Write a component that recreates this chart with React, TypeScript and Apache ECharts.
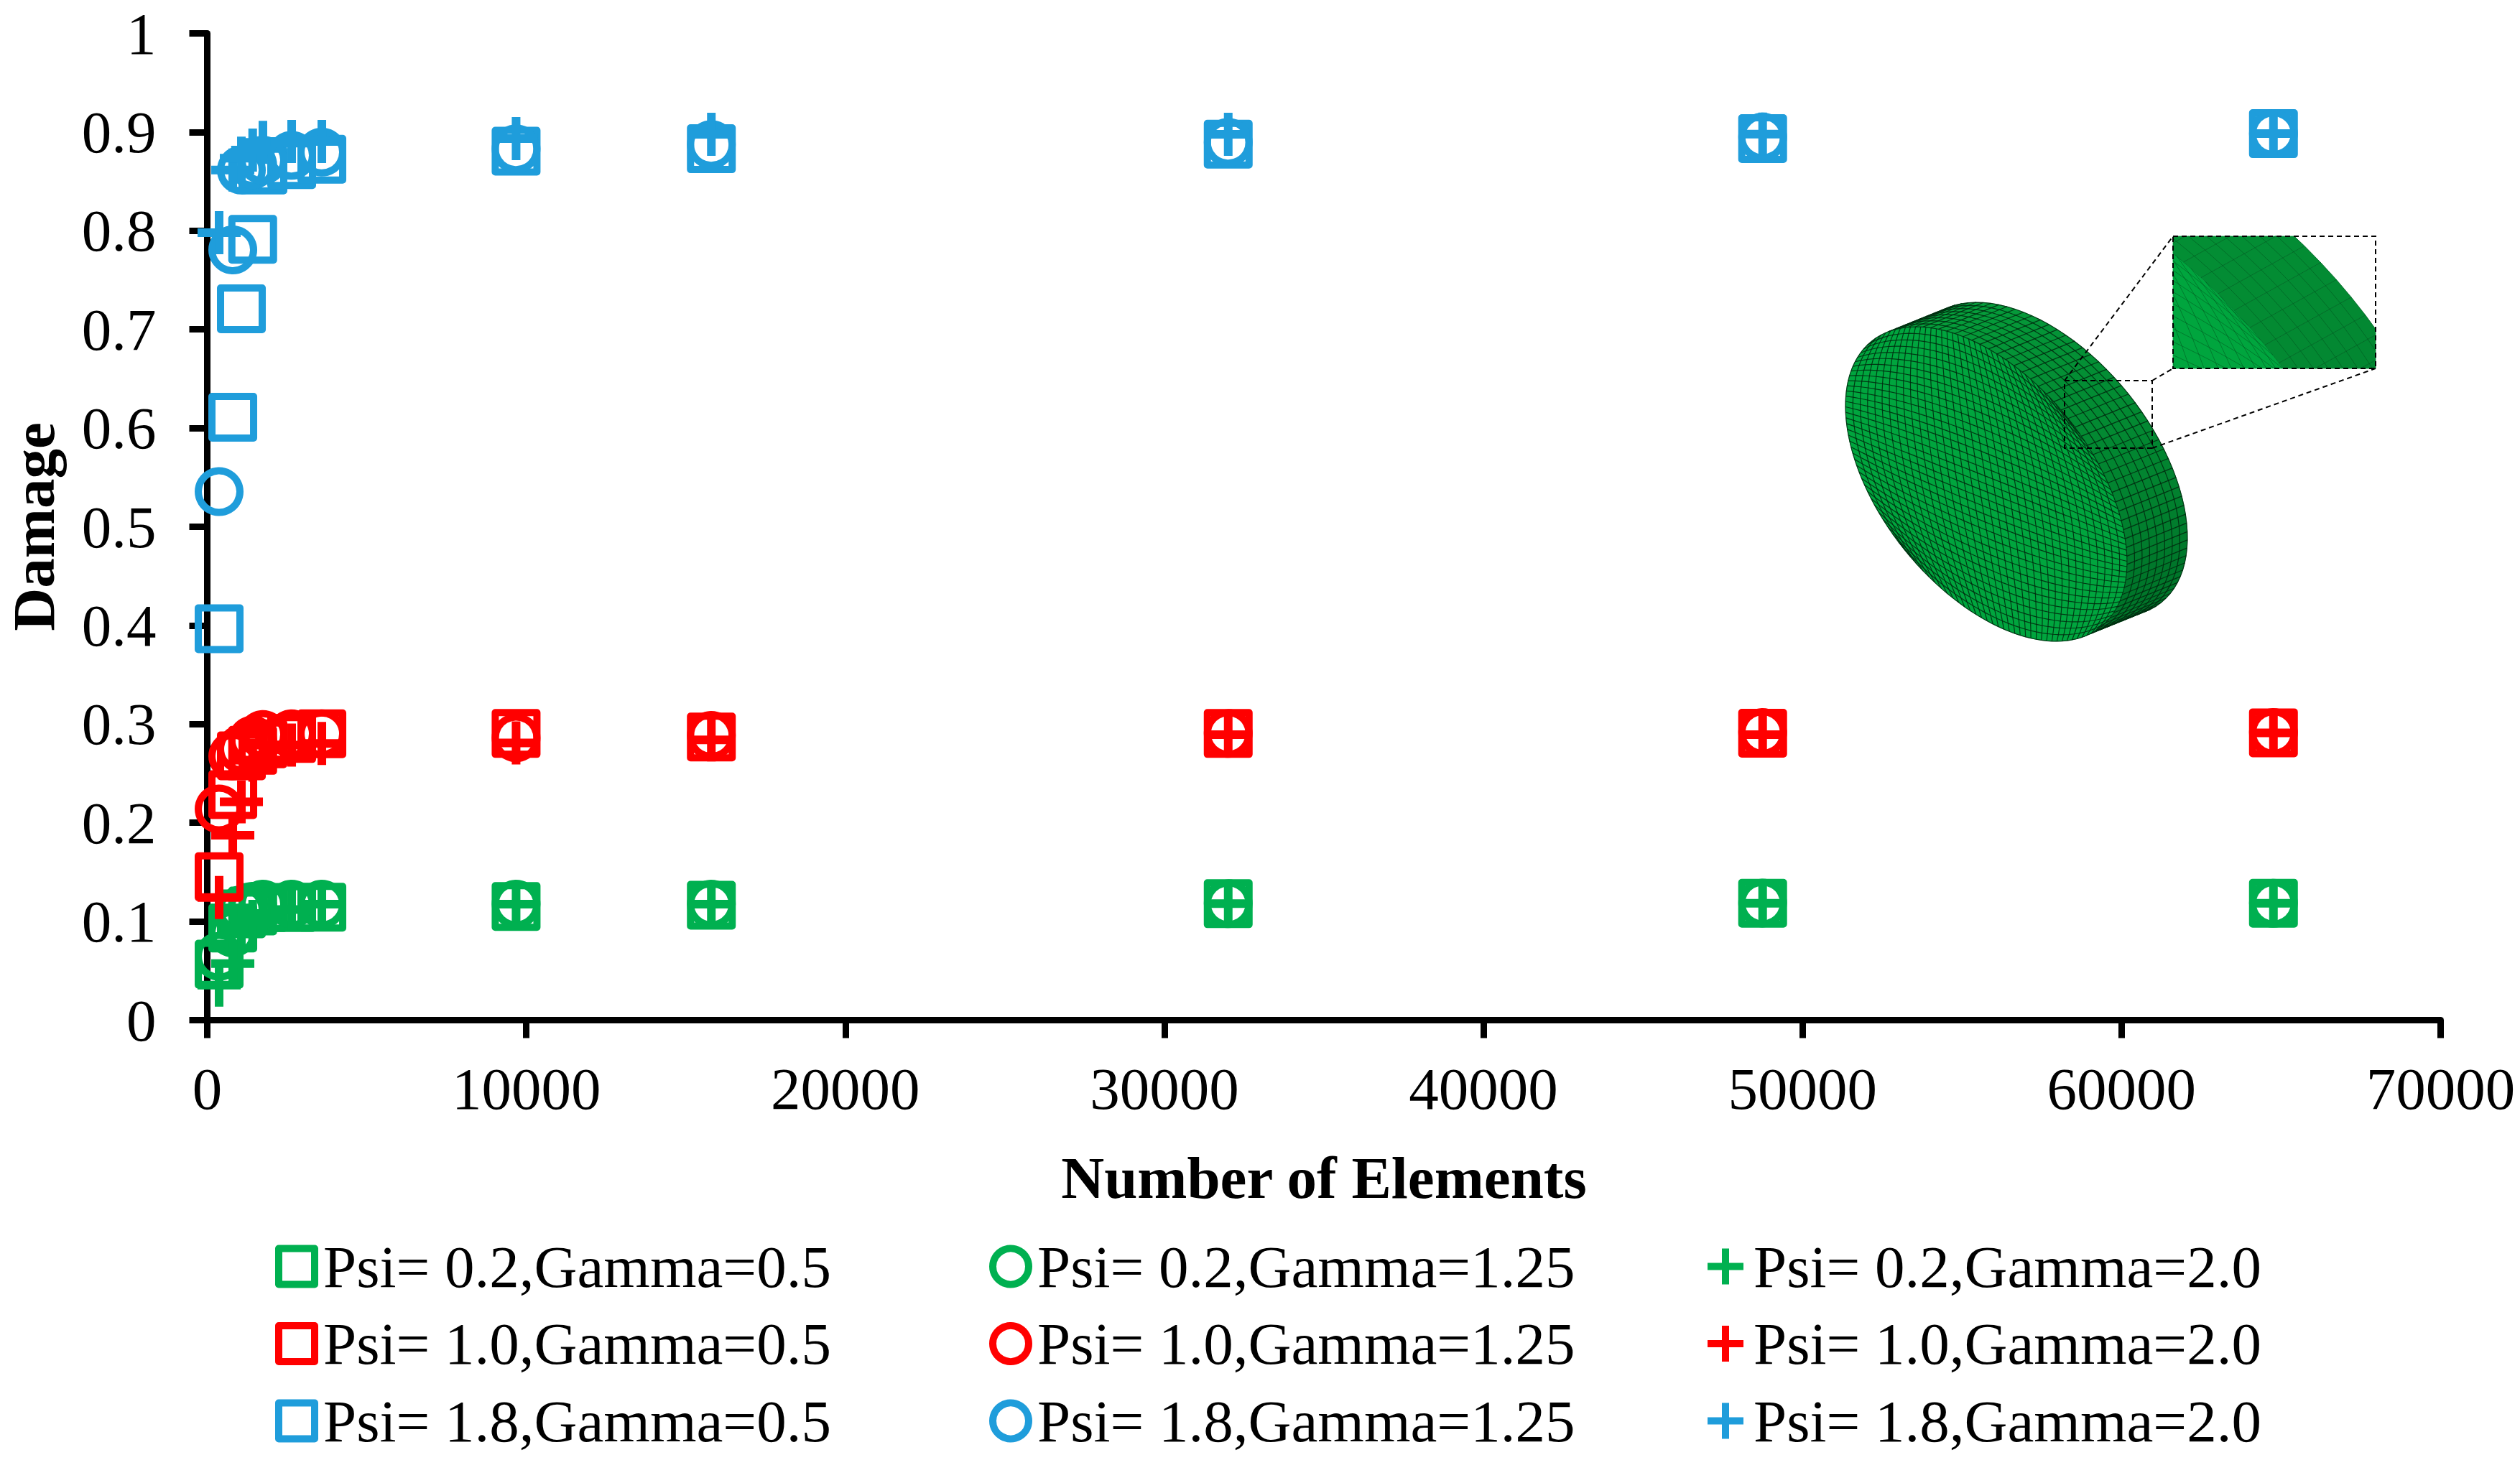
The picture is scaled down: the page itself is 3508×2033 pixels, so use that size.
import React, { useEffect, useRef } from "react";
import * as echarts from "echarts";

const elements = [372, 800, 1070, 1424, 1745, 2646, 3592, 9680, 15800, 32000, 48750, 64760];

const greenSquare = [0.0567, 0.0933, 0.1077, 0.1106, 0.114, 0.114, 0.1145, 0.1152, 0.1165, 0.118, 0.1184, 0.1184];
const greenCircle = [0.0647, 0.0884, 0.112, 0.1153, 0.1176, 0.1176, 0.1176, 0.1176, 0.1176, 0.118, 0.1187, 0.1184];
const greenPlus = [0.0355, 0.0574, 0.092, 0.1, 0.108, 0.112, 0.1176, 0.1176, 0.1176, 0.118, 0.1184, 0.1184];
const redSquare = [0.1453, 0.2286, 0.2679, 0.2734, 0.28, 0.2854, 0.2902, 0.2905, 0.287, 0.2905, 0.2908, 0.2912];
const redCircle = [0.214, 0.2676, 0.2748, 0.2839, 0.2895, 0.2902, 0.2902, 0.2861, 0.2885, 0.2905, 0.2915, 0.2915];
const redPlus = [0.1242, 0.1875, 0.2213, 0.2635, 0.2788, 0.2788, 0.2803, 0.281, 0.284, 0.2893, 0.2893, 0.2912];
const blueSquare = [0.3966, 0.611, 0.7209, 0.7913, 0.8615, 0.867, 0.8724, 0.8806, 0.8831, 0.8877, 0.8934, 0.8984];
const blueCircle = [0.5356, 0.7806, 0.8615, 0.867, 0.8715, 0.8765, 0.8797, 0.883, 0.8874, 0.8896, 0.895, 0.8984];
const bluePlus = [0.798, 0.8615, 0.8736, 0.8817, 0.8896, 0.8904, 0.8904, 0.8933, 0.8977, 0.8977, 0.8979, 0.8984];

const GREEN = "#00B050";
const RED = "#FF0000";
const BLUE = "#1F9DDB";
const FONT = "'Liberation Serif', 'Times New Roman', serif";
const PLUS = "path://M4 0h2v4h4v2H6v4H4V6H0V4h4z";

type Kind = "rect" | "circle" | "plus";
const seriesDefs: { name: string; kind: Kind; color: string; values: number[] }[] = [
  { name: "Psi= 0.2,Gamma=0.5", kind: "rect", color: GREEN, values: greenSquare },
  { name: "Psi= 0.2,Gamma=1.25", kind: "circle", color: GREEN, values: greenCircle },
  { name: "Psi= 0.2,Gamma=2.0", kind: "plus", color: GREEN, values: greenPlus },
  { name: "Psi= 1.0,Gamma=0.5", kind: "rect", color: RED, values: redSquare },
  { name: "Psi= 1.0,Gamma=1.25", kind: "circle", color: RED, values: redCircle },
  { name: "Psi= 1.0,Gamma=2.0", kind: "plus", color: RED, values: redPlus },
  { name: "Psi= 1.8,Gamma=0.5", kind: "rect", color: BLUE, values: blueSquare },
  { name: "Psi= 1.8,Gamma=1.25", kind: "circle", color: BLUE, values: blueCircle },
  { name: "Psi= 1.8,Gamma=2.0", kind: "plus", color: BLUE, values: bluePlus },
];

const styleFor = (kind: Kind, color: string) =>
  kind === "plus"
    ? { color, borderWidth: 0, opacity: 1 }
    : { color: "rgba(255,255,255,0)", borderColor: color, borderWidth: 10, borderJoin: "round", opacity: 1 };

const buildSeries = () =>
  seriesDefs.map((s) => ({
    name: s.name,
    type: "scatter",
    clip: false,
    symbol: s.kind === "plus" ? PLUS : s.kind,
    symbolSize: s.kind === "plus" ? 60 : 58,
    itemStyle: styleFor(s.kind, s.color),
    emphasis: { disabled: true },
    data: elements.map((x, i) => [x, s.values[i]]),
  }));

const legendLefts = [383, 1377, 2377];
const legendPads = [7, 7, 9];
const buildLegends = () =>
  legendLefts.map((left, col) => ({
    orient: "vertical",
    left,
    top: 1722,
    padding: 0,
    itemWidth: 50,
    itemHeight: 50,
    itemGap: 24.5,
    selectedMode: false,
    textStyle: { fontFamily: FONT, fontSize: 83, color: "#000", padding: [0, 0, 0, legendPads[col]] },
    data: seriesDefs
      .filter((_, i) => i % 3 === col)
      .map((s) => ({ name: s.name, itemStyle: styleFor(s.kind, s.color) })),
  }));

/* ---------- the meshed disc picture (decoration, not data) ---------- */
type P = [number, number];
const A = 255, B = 146, TH = (51.3 * Math.PI) / 180;
const ex: P = [Math.cos(TH), Math.sin(TH)];
const ey: P = [-Math.sin(TH), Math.cos(TH)];
type Rect = { x0: number; y0: number; x1: number; y1: number };

const clipPoly = (pts: P[], r: Rect): P[] => {
  const edges: ((p: P) => number)[] = [
    (p) => p[0] - r.x0, (p) => r.x1 - p[0], (p) => p[1] - r.y0, (p) => r.y1 - p[1],
  ];
  let out = pts;
  for (const f of edges) {
    const res: P[] = [];
    for (let i = 0; i < out.length; i++) {
      const a = out[i], b = out[(i + 1) % out.length];
      const fa = f(a), fb = f(b);
      if (fa >= 0) res.push(a);
      if (fa * fb < 0) {
        const k = fa / (fa - fb);
        res.push([a[0] + (b[0] - a[0]) * k, a[1] + (b[1] - a[1]) * k]);
      }
    }
    out = res;
    if (!out.length) break;
  }
  return out;
};
const clipSeg = (a: P, b: P, r: Rect): [P, P] | null => {
  let t0 = 0, t1 = 1;
  const dx = b[0] - a[0], dy = b[1] - a[1];
  const tests: [number, number][] = [[-dx, a[0] - r.x0], [dx, r.x1 - a[0]], [-dy, a[1] - r.y0], [dy, r.y1 - a[1]]];
  for (const [p, q] of tests) {
    if (p === 0) { if (q < 0) return null; continue; }
    const t = q / p;
    if (p < 0) { if (t > t1) return null; if (t > t0) t0 = t; }
    else { if (t < t0) return null; if (t < t1) t1 = t; }
  }
  return [[a[0] + dx * t0, a[1] + dy * t0], [a[0] + dx * t1, a[1] + dy * t1]];
};
const mix = (c1: number[], c2: number[], k: number) =>
  `rgb(${c1.map((v, i) => Math.round(v + (c2[i] - v) * k)).join(",")})`;

type DiscOpt = { cx: number; cy: number; off: P; map: (p: P) => P; clip: Rect | null; lineColor: string; lineWidth: number; z: number };

const buildDisc = ({ cx, cy, off, map, clip, lineColor, lineWidth, z }: DiscOpt) => {
  const ell = (p: number, q: number): P => [cx + A * p * ex[0] + B * q * ey[0], cy + A * p * ex[1] + B * q * ey[1]];
  const face = (u: number, v: number): P => {
    const dx = u * Math.sqrt(1 - (v * v) / 2);
    const dy = v * Math.sqrt(1 - (u * u) / 2);
    return ell((dx + dy) / Math.SQRT2, (dy - dx) / Math.SQRT2);
  };
  const ring = (t: number, d: number): P => {
    const p = ell(Math.cos(t), Math.sin(t));
    return [p[0] + off[0] * d, p[1] + off[1] * d];
  };
  const normal = (t: number): P => {
    const c = Math.cos(t) / A, s = Math.sin(t) / B;
    const n: P = [c * ex[0] + s * ey[0], c * ex[1] + s * ey[1]];
    const l = Math.hypot(n[0], n[1]);
    return [n[0] / l, n[1] / l];
  };
  const els: any[] = [];
  const poly = (pts: P[], fill: string) => {
    let m = pts.map(map);
    if (clip) m = clipPoly(m, clip);
    if (m.length > 2) els.push({ type: "polygon", silent: true, z, shape: { points: m }, style: { fill, stroke: fill, lineWidth: 0.8 } });
  };
  const line = (pts: P[]) => {
    const m = pts.map(map);
    if (!clip) {
      els.push({ type: "polyline", silent: true, z: z + 2, shape: { points: m }, style: { fill: "none", stroke: lineColor, lineWidth } });
      return;
    }
    let run: P[] = [];
    const flush = () => {
      if (run.length > 1) els.push({ type: "polyline", silent: true, z: z + 2, shape: { points: run }, style: { fill: "none", stroke: lineColor, lineWidth } });
      run = [];
    };
    for (let i = 0; i + 1 < m.length; i++) {
      const s = clipSeg(m[i], m[i + 1], clip);
      if (!s) { flush(); continue; }
      if (!run.length) run.push(s[0]);
      run.push(s[1]);
      if (s[1][0] !== m[i + 1][0] || s[1][1] !== m[i + 1][1]) flush();
    }
    flush();
  };
  const M = 104, ROWS = 8, N = 36;
  const vis: number[] = [];
  for (let i = 0; i < M; i++) {
    const t = ((i + 0.5) / M) * Math.PI * 2;
    const n = normal(t);
    if (n[0] * off[0] + n[1] * off[1] > 0) vis.push(i);
  }
  let startIdx = 0;
  for (let k = 0; k < vis.length; k++) {
    if ((vis[k] - 1 + M) % M !== vis[(k - 1 + vis.length) % vis.length]) startIdx = k;
  }
  const cols = vis.slice(startIdx).concat(vis.slice(0, startIdx));
  cols.forEach((i) => {
    const t0 = (i / M) * Math.PI * 2, t1 = ((i + 1) / M) * Math.PI * 2;
    const n = normal((t0 + t1) / 2);
    const k = Math.pow(Math.min(1, Math.max(0, (n[1] + 1) / 1.2)), 0.6);
    poly([ring(t0, 0), ring(t1, 0), ring(t1, 1), ring(t0, 1)], mix([6, 160, 60], [0, 118, 42], k));
  });
  for (let r = 1; r <= ROWS; r++) {
    const pts: P[] = [];
    cols.forEach((i) => pts.push(ring((i / M) * Math.PI * 2, r / ROWS)));
    pts.push(ring(((cols[cols.length - 1] + 1) / M) * Math.PI * 2, r / ROWS));
    line(pts);
  }
  cols.forEach((i) => {
    const t = (i / M) * Math.PI * 2;
    line([ring(t, 0), ring(t, 1)]);
  });
  const outline: P[] = [];
  for (let i = 0; i < 160; i++) {
    const t = (i / 160) * Math.PI * 2;
    outline.push(ell(Math.cos(t), Math.sin(t)));
  }
  poly(outline, "#00A53E");
  for (let i = 0; i <= N; i++) {
    const u = -1 + (2 * i) / N;
    const a: P[] = [], b: P[] = [];
    for (let j = 0; j <= N; j++) {
      const v = -1 + (2 * j) / N;
      a.push(face(u, v));
      b.push(face(v, u));
    }
    line(a);
    line(b);
  }
  return els;
};

const buildPicture = () => {
  const src = { x0: 2874, y0: 530, x1: 2996, y1: 624 };
  const dst = { x0: 3025, y0: 329, x1: 3307, y1: 513 };
  const sx = (dst.x1 - dst.x0) / (src.x1 - src.x0);
  const sy = (dst.y1 - dst.y0) / (src.y1 - src.y0);
  const zoomMap = (p: P): P => [dst.x0 + (p[0] - src.x0) * sx, dst.y0 + (p[1] - src.y0) * sy];
  const dash = { stroke: "#000", lineWidth: 2, lineDash: [7, 5], fill: "none" };
  const rectOf = (r: Rect) => ({ x: r.x0, y: r.y0, width: r.x1 - r.x0, height: r.y1 - r.y0 });
  const seg = (x1: number, y1: number, x2: number, y2: number) => ({
    type: "line", silent: true, z: 30, shape: { x1, y1, x2, y2 }, style: dash,
  });
  return [
    ...buildDisc({ cx: 2765, cy: 674, off: [84, -34], map: (p) => p, clip: null, lineColor: "rgba(0,40,14,0.85)", lineWidth: 1.2, z: 10 }),
    ...buildDisc({ cx: 2797, cy: 674, off: [52, -34], map: zoomMap, clip: dst, lineColor: "rgba(0,70,25,0.45)", lineWidth: 1, z: 20 }),
    { type: "rect", silent: true, z: 30, shape: rectOf(src), style: dash },
    { type: "rect", silent: true, z: 30, shape: rectOf(dst), style: dash },
    seg(src.x0, src.y0, dst.x0, dst.y0),
    seg(src.x1, src.y0, dst.x0, dst.y1),
    seg(src.x1, src.y1, dst.x1, dst.y1),
  ];
};

const axisCommon = {
  axisLine: { show: true, onZero: false, lineStyle: { color: "#000", width: 9 } },
  axisTick: { show: true, inside: false, length: 25, lineStyle: { color: "#000", width: 9 } },
  splitLine: { show: false },
  nameTextStyle: { fontFamily: FONT, fontSize: 83, fontWeight: "bold", color: "#000" },
};

export default function App() {
  const ref = useRef<HTMLDivElement>(null);
  useEffect(() => {
    const chart = echarts.init(ref.current!, undefined, { renderer: "svg" });
    chart.setOption({
      animation: false,
      backgroundColor: "#fff",
      grid: { left: 288.5, top: 46.5, width: 3109, height: 1374, containLabel: false, outerBoundsMode: "none" },
      xAxis: {
        ...axisCommon,
        type: "value",
        min: 0,
        max: 70000,
        interval: 10000,
        name: "Number of Elements",
        nameLocation: "middle",
        nameGap: 178,
        axisLabel: { fontFamily: FONT, fontSize: 83, color: "#000", margin: 54, formatter: (v: number) => String(v), hideOverlap: false, showMaxLabel: true, showMinLabel: true },
      },
      yAxis: {
        ...axisCommon,
        type: "value",
        min: 0,
        max: 1,
        interval: 0.1,
        name: "Damage",
        nameLocation: "middle",
        nameGap: 200,
        axisLabel: { fontFamily: FONT, fontSize: 83, color: "#000", margin: 71, hideOverlap: false, showMaxLabel: true, showMinLabel: true },
      },
      legend: buildLegends(),
      series: buildSeries(),
      graphic: { elements: buildPicture() },
    });
    return () => chart.dispose();
  }, []);
  return (
    <div
      ref={ref}
      style={{ position: "absolute", left: 0, top: 0, width: 3508, height: 2033, overflow: "hidden", background: "#fff" }}
    />
  );
}
